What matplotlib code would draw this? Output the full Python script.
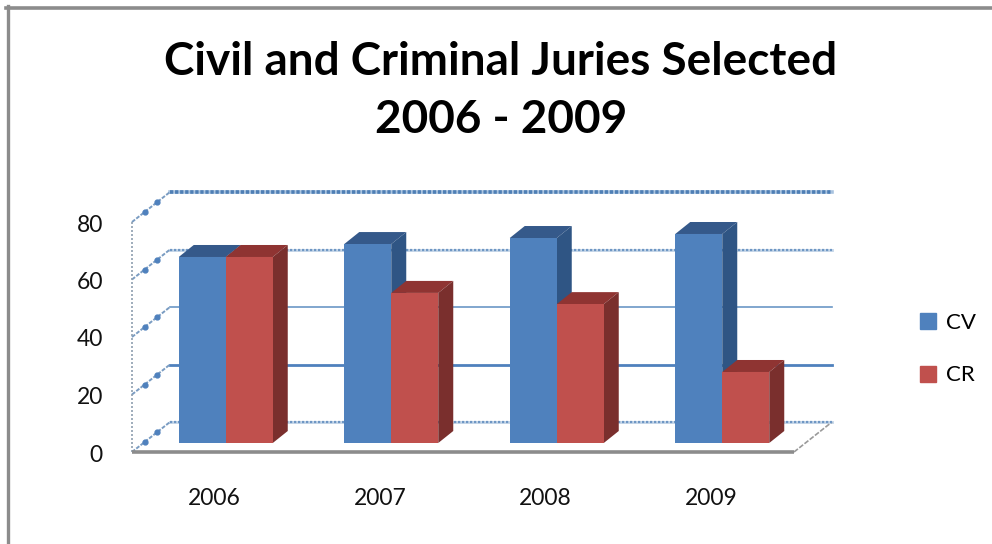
import numpy as np
import matplotlib
matplotlib.use("Agg")
import matplotlib.pyplot as plt
from matplotlib.lines import Line2D
from matplotlib.patches import Patch
from matplotlib.transforms import ScaledTranslation

years = ["2006", "2007", "2008", "2009"]
cv = [64.7, 69.2, 71.3, 72.7]
cr = [64.7, 52.2, 48.3, 24.7]
yticks = [0, 20, 40, 60, 80]
title = "Civil and Criminal Juries Selected\n2006 - 2009"

W, H = 992, 544
L, R, B, T = 132, 794, 452, 222
fig = plt.figure(figsize=(W / 100, H / 100), dpi=100, facecolor="white")
ax = fig.add_axes([L / W, 1 - B / H, (R - L) / W, (B - T) / H])
ax.set_xlim(-0.5, 3.5)
ax.set_ylim(0, 80)
ax.patch.set_visible(False)
for s in ax.spines.values():
    s.set_visible(False)

FONT = "Lato"
px_x = (R - L) / 4
px_y = (B - T) / 80
wall_dx, wall_dy = 38 / px_x, 30 / px_y
bar_dx, bar_dy = 15 / px_x, 12 / px_y
base = 9 / px_y
shift = 11 / px_x
bw = 47 / px_x

# Back wall gridlines and left wall
for v in yticks:
    x0, x1 = -0.5 + wall_dx, 3.5 + wall_dx
    y = v + wall_dy
    if v == 20:
        ax.plot([x0, x1], [y, y], color="#4f81bd", lw=2.0, clip_on=False, zorder=1)
    elif v == 40:
        ax.plot([x0, x1], [y, y], color="#6b97c6", lw=1.2, clip_on=False, zorder=1)
    elif v == 80:
        ax.plot([x0, x1], [y, y], color="#a9c3df", lw=2.6, clip_on=False, zorder=1)
        ax.plot([x0, x1], [y, y], color="#4f7fb5", lw=2.6, ls=(0, (0.9, 0.5)),
                clip_on=False, zorder=1.1)
    else:
        ax.plot([x0, x1], [y, y], color="#c3d5e8", lw=2.0, clip_on=False, zorder=1)
        ax.plot([x0, x1], [y, y], color="#6f97c4", lw=1.6, ls=(0, (1.0, 0.8)),
                clip_on=False, zorder=1.1)
    ax.plot([-0.5, -0.5 + wall_dx], [v, v + wall_dy], color="#7a9cc2", lw=1.4,
            ls=(0, (2, 0.8)), clip_on=False, zorder=1)
    ax.plot([-0.5 + wall_dx / 3, -0.5 + 2 * wall_dx / 3],
            [v + wall_dy / 3, v + 2 * wall_dy / 3], ls="none", marker="o", ms=3.5,
            color="#4f81bd", clip_on=False, zorder=1.2)
ax.plot([-0.5, -0.5], [0, 80], color="#8f9fb0", lw=1.2, ls=(0, (1.2, 1.2)), clip_on=False, zorder=1)
ax.plot([3.5, 3.5 + wall_dx], [0, wall_dy], color="#9a9a9a", lw=1.2, ls=(0, (3, 1)), clip_on=False, zorder=1)
ax.plot([-0.5, 3.5], [0, 0], color="#8c8c8c", lw=2.6, clip_on=False, zorder=1.5, solid_capstyle="butt")


def draw_bar(xleft, val, front, top, side):
    xr = xleft + bw
    ytop = base + val
    ax.fill([xleft, xr, xr + bar_dx, xleft + bar_dx], [ytop, ytop, ytop + bar_dy, ytop + bar_dy],
            color=top, lw=0, zorder=3)
    ax.fill([xr, xr + bar_dx, xr + bar_dx, xr], [base, base + bar_dy, ytop + bar_dy, ytop],
            color=side, lw=0, zorder=3)
    ax.bar(xleft, val, width=bw, bottom=base, align="edge", color=front, lw=0, zorder=3)


for i in range(4):
    x0 = i + shift
    draw_bar(x0 - bw, cv[i], "#4f81bd", "#35598a", "#2f5584")
    draw_bar(x0, cr[i], "#c0504d", "#8f3432", "#7a2f2d")

ax.set_xticks(range(4), years, fontfamily=FONT, fontsize=16.5, color="#111111")
ax.set_yticks(yticks, [str(v) for v in yticks], fontfamily=FONT, fontsize=16.5, color="#111111")
ax.tick_params(axis="x", length=0, pad=26)
ax.tick_params(axis="y", length=0, pad=21)
for lab in ax.get_yticklabels():
    lab.set_transform(lab.get_transform() + ScaledTranslation(0, -1 / 100, fig.dpi_scale_trans))

fig.text(501 / W, 1 - 91 / H, title, ha="center", va="center", fontfamily=FONT,
         fontweight="bold", fontsize=33, color="black", linespacing=1.47)

handles = [Patch(color="#4f81bd", label="CV"), Patch(color="#c0504d", label="CR")]
fig.legend(handles=handles, loc="center left", bbox_to_anchor=(920 / W, 1 - 349 / H),
           frameon=False, handlelength=0.72, handleheight=0.72, handletextpad=0.45,
           labelspacing=1.48, prop={"family": FONT, "size": 16}, borderpad=0, borderaxespad=0)

fig.add_artist(Line2D([7.5 / W, 7.5 / W], [0, 1 - 6 / H], color="#8c8c8c", lw=2.4, transform=fig.transFigure))
fig.add_artist(Line2D([6 / W, 1], [1 - 8 / H, 1 - 8 / H], color="#8c8c8c", lw=2.6, transform=fig.transFigure))

fig.savefig("out.png", dpi=100, facecolor="white")
